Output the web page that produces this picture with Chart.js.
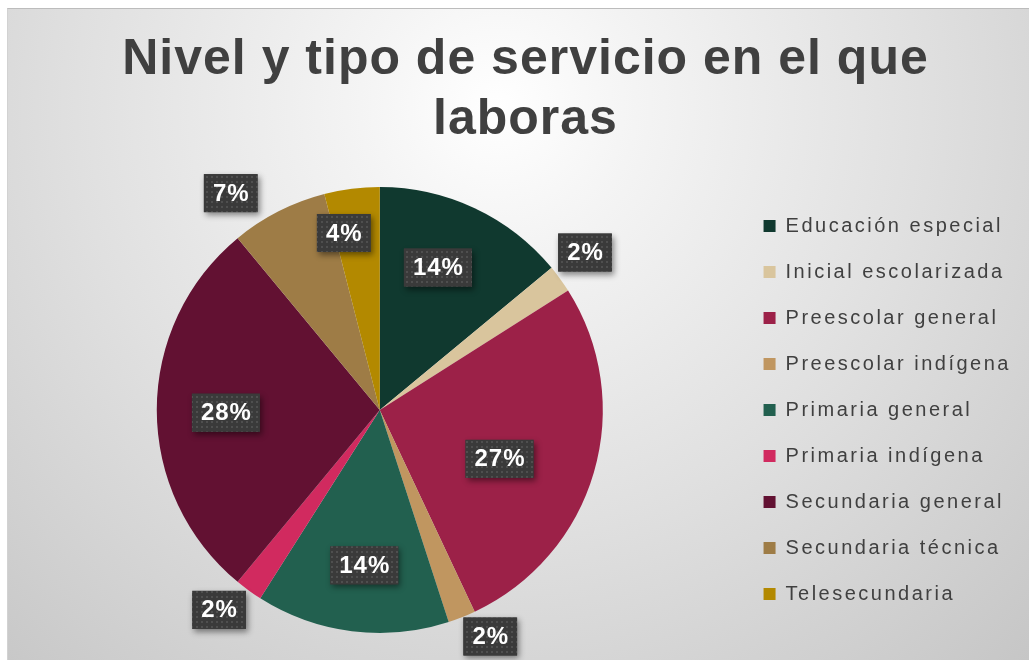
<!DOCTYPE html>
<html>
<head>
<meta charset="utf-8">
<script src="https://cdn.jsdelivr.net/npm/chart.js@4/dist/chart.umd.min.js"></script>
<style>
    html, body { margin: 0; padding: 0; width: 1029px; height: 660px; overflow: hidden; background: #fff; }
    #bg {
        position: absolute; left: 7px; top: 8px; right: 0; bottom: 0;
        background: radial-gradient(circle farthest-corner at 48% 15%, #ffffff 0%, #f4f4f4 18%, #e0e0e0 55%, #c6c6c6 100%);
        border-top: 1px solid #bcbcbc;
        border-left: 1px solid #d2d2d2;
    }
    #wrap { position: absolute; left: 0; top: 0; width: 1029px; height: 660px; }
</style>
</head>
<body>
<div id="bg"></div>
<div id="wrap"><canvas id="pie-chart" width="1029" height="660"></canvas></div>
<script>
const categories = [
    'Educación especial',
    'Inicial escolarizada',
    'Preescolar general',
    'Preescolar indígena',
    'Primaria general',
    'Primaria indígena',
    'Secundaria general',
    'Secundaria técnica',
    'Telesecundaria'
];
const shares = [14, 2, 27, 2, 14, 2, 28, 7, 4];
const sliceColors = [
    '#10392f', '#d9c59d', '#9c2148', '#c09660', '#22604f',
    '#d12a5f', '#621132', '#9e7c46', '#b38900'
];
const titleLines = ['Nivel y tipo de servicio en el que', 'laboras'];

// where each percentage box sits: fraction of the radius and a small angle nudge (deg)
const labelSpots = [
    { r: 0.69, a: -3 }, { r: 1.16, a: -1.5 }, { r: 0.58, a: 6 },
    { r: 1.13, a: -4.4 }, { r: 0.70, a: -1.5 }, { r: 1.15, a: 2.8 },
    { r: 0.69, a: -1 }, { r: 1.18, a: -7.5 }, { r: 0.81, a: -4.3 }
];

const FONT = '"Liberation Sans", Arial, sans-serif';

function makeDots() {
    const c = document.createElement('canvas');
    c.width = 5; c.height = 5;
    const g = c.getContext('2d');
    g.fillStyle = '#3a3a3a';
    g.fillRect(0, 0, 5, 5);
    g.fillStyle = '#4f4f4f';
    g.fillRect(1, 1, 2, 2);
    return c;
}
const dotTile = makeDots();

// legend text is spaced wider than the title
const spacingPlugin = {
    id: 'spacing',
    afterInit(chart) {
        const tb = chart.titleBlock;
        const orig = tb.draw;
        tb.draw = function() {
            const c = this.ctx;
            const prev = c.letterSpacing;
            c.letterSpacing = '1px';
            orig.apply(this, arguments);
            c.letterSpacing = prev;
        };
    },
    beforeLayout(chart) { chart.ctx.letterSpacing = '2.5px'; },
    beforeDraw(chart) { chart.ctx.letterSpacing = '2.5px'; }
};

const boxLabels = {
    id: 'boxLabels',
    afterDatasetsDraw(chart) {
        const ctx = chart.ctx;
        const meta = chart.getDatasetMeta(0);
        const total = shares.reduce((a, b) => a + b, 0);
        const pattern = ctx.createPattern(dotTile, 'repeat');
        meta.data.forEach((arc, i) => {
            const spot = labelSpots[i];
            const mid = (arc.startAngle + arc.endAngle) / 2 + spot.a * Math.PI / 180;
            const rr = arc.outerRadius * spot.r;
            const x = arc.x + Math.cos(mid) * rr;
            const y = arc.y + Math.sin(mid) * rr;
            const txt = Math.round(shares[i] / total * 100) + '%';
            ctx.save();
            ctx.font = 'bold 24px ' + FONT;
            ctx.letterSpacing = '1px';
            const tw = ctx.measureText(txt).width - 1;
            const bw = tw + 18, bh = 38;
            ctx.shadowColor = 'rgba(0,0,0,0.45)';
            ctx.shadowBlur = 6;
            ctx.shadowOffsetX = 2;
            ctx.shadowOffsetY = 3;
            ctx.fillStyle = '#3a3a3a';
            ctx.fillRect(x - bw / 2, y - bh / 2, bw, bh);
            ctx.shadowColor = 'transparent';
            ctx.fillStyle = pattern;
            ctx.fillRect(x - bw / 2, y - bh / 2, bw, bh);
            ctx.fillStyle = '#ffffff';
            ctx.textAlign = 'left';
            ctx.textBaseline = 'middle';
            ctx.fillText(txt, x - tw / 2, y + 1);
            ctx.restore();
        });
    }
};

const pieChart = new Chart(
    document.getElementById('pie-chart'),
    {
        type: 'pie',
        data: {
            labels: categories,
            datasets: [{
                data: shares,
                backgroundColor: sliceColors,
                borderWidth: 0
            }]
        },
        options: {
            responsive: false,
            animation: false,
            layout: {
                padding: { left: 22, right: 0, top: 0, bottom: 27 }
            },
            plugins: {
                title: {
                    display: true,
                    text: titleLines,
                    color: '#404040',
                    font: { family: FONT, size: 50, weight: 'bold', lineHeight: 1.2 },
                    padding: { top: 30, bottom: 37 }
                },
                legend: {
                    position: 'right',
                    fullSize: false,
                    labels: {
                        color: '#404040',
                        font: { family: FONT, size: 20 },
                        boxWidth: 12,
                        boxHeight: 12,
                        padding: 26,
                        generateLabels(chart) {
                            const items = Chart.controllers.pie.overrides.plugins.legend.labels.generateLabels(chart);
                            items.forEach(it => { it.text = it.text + ' '; it.lineWidth = 0; });
                            return items;
                        }
                    }
                },
                tooltip: { enabled: false }
            }
        },
        plugins: [spacingPlugin, boxLabels]
    }
);
</script>
</body>
</html>
